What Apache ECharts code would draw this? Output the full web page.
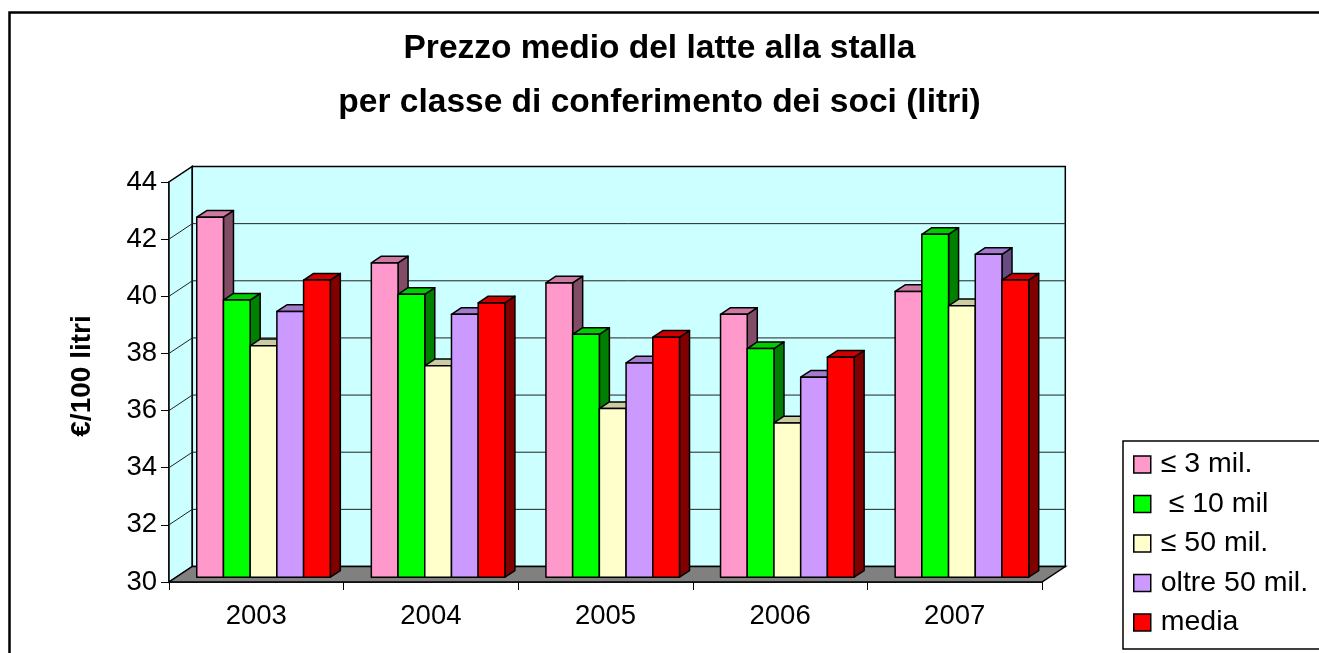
<!DOCTYPE html>
<html>
<head>
    <meta charset="utf-8">
    <title>Prezzo medio del latte alla stalla</title>
    <script src="https://cdn.jsdelivr.net/npm/echarts@6/dist/echarts.min.js"></script>
    <style>
        html, body { margin: 0; padding: 0; background: #fff; }
        #chart1 { width: 1319px; height: 653px; }
    </style>
</head>
<body>
<div id="chart1"></div>
<script>
    // dati
    var anni = ['2003', '2004', '2005', '2006', '2007'];
    var classi = ['≤ 3 mil.', ' ≤ 10 mil', '≤ 50 mil.', 'oltre 50 mil.', 'media'];
    var fino3 = [42.6, 41.0, 40.3, 39.2, 40.0];
    var fino10 = [39.7, 39.9, 38.5, 38.0, 42.0];
    var fino50 = [38.1, 37.4, 35.9, 35.4, 39.5];
    var oltre50 = [39.3, 39.2, 37.5, 37.0, 41.3];
    var media = [40.4, 39.6, 38.4, 37.7, 40.4];
    var yMin = 30, yMax = 44, yStep = 2;

    var valori = [fino3, fino10, fino50, oltre50, media];
    // colori: fronte, sopra, lato
    var colori = [
        ['#FF99CC', '#CC7AA3', '#804C66'],
        ['#00FF00', '#00CC00', '#008000'],
        ['#FFFFCC', '#CCCCA3', '#808066'],
        ['#CC99FF', '#A37ACC', '#664C80'],
        ['#FF0000', '#CC0000', '#800000']
    ];

    // profondita' finta 3D
    var DX = 23.3, DY = -15.5;
    var F1 = 0.31, F2 = 0.74;

    var chart = echarts.init(document.getElementById('chart1'));

    function renderPareti(params, api) {
        var catW = api.size([1, 0])[0];
        var L = api.coord([0, yMin])[0] - catW / 2;
        var R = api.coord([anni.length - 1, yMin])[0] + catW / 2;
        var y0 = api.coord([0, yMin])[1];
        var y1 = api.coord([0, yMax])[1];
        var figli = [];
        var cyan = '#CCFFFF';
        figli.push({
            type: 'polygon',
            shape: { points: [[L, y0], [L, y1], [L + DX, y1 + DY], [L + DX, y0 + DY]] },
            style: { fill: cyan, stroke: '#000', lineWidth: 1.5 }
        });
        figli.push({
            type: 'rect',
            shape: { x: L + DX, y: y1 + DY, width: R - L, height: y0 - y1 },
            style: { fill: cyan, stroke: '#000', lineWidth: 1.5 }
        });
        for (var v = yMin + yStep; v < yMax; v += yStep) {
            var yv = api.coord([0, v])[1];
            figli.push({
                type: 'line',
                shape: { x1: L + DX, y1: yv + DY, x2: R + DX, y2: yv + DY },
                style: { stroke: '#222', lineWidth: 1 }
            });
            figli.push({
                type: 'line',
                shape: { x1: L, y1: yv, x2: L + DX, y2: yv + DY },
                style: { stroke: '#222', lineWidth: 1 }
            });
        }
        figli.push({
            type: 'polygon',
            shape: { points: [[L, y0], [R, y0], [R + DX, y0 + DY], [L + DX, y0 + DY]] },
            style: { fill: '#808080', stroke: '#000', lineWidth: 1.5 }
        });
        return { type: 'group', children: figli };
    }

    function creaBarre(s) {
        return function (params, api) {
            var catW = api.size([1, 0])[0];
            var bw = catW * 0.153;
            var c = api.coord([api.value(0), api.value(1)]);
            var base = api.coord([api.value(0), yMin]);
            var x0 = c[0] + (s - 2.5) * bw + F1 * DX;
            var x1 = x0 + bw;
            var yT = c[1] + F1 * DY;
            var yB = base[1] + F1 * DY;
            var dx = (F2 - F1) * DX, dy = (F2 - F1) * DY;
            var st = { stroke: '#000', lineWidth: 1.5, lineJoin: 'round' };
            return {
                type: 'group',
                children: [
                    {
                        type: 'polygon',
                        shape: { points: [[x1, yT], [x1 + dx, yT + dy], [x1 + dx, yB + dy], [x1, yB]] },
                        style: Object.assign({ fill: colori[s][2] }, st)
                    },
                    {
                        type: 'polygon',
                        shape: { points: [[x0, yT], [x1, yT], [x1 + dx, yT + dy], [x0 + dx, yT + dy]] },
                        style: Object.assign({ fill: colori[s][1] }, st)
                    },
                    {
                        type: 'rect',
                        shape: { x: x0, y: yT, width: bw, height: yB - yT },
                        style: Object.assign({ fill: colori[s][0] }, st)
                    }
                ]
            };
        };
    }

    var serie = [{
        name: 'pareti',
        type: 'custom',
        renderItem: renderPareti,
        data: [[0, yMin]],
        silent: true,
        z: 1
    }];
    classi.forEach(function (nome, s) {
        serie.push({
            name: nome,
            type: 'custom',
            renderItem: creaBarre(s),
            itemStyle: { color: colori[s][0] },
            encode: { x: 0, y: 1 },
            data: anni.map(function (a, i) { return [i, valori[s][i]]; }),
            z: 3
        });
    });

    var option = {
        animation: false,
        title: {
            text: 'Prezzo medio del latte alla stalla\nper classe di conferimento dei soci (litri)',
            left: 'center',
            top: 17,
            padding: [5, 0, 5, 15],
            textStyle: {
                fontFamily: 'Liberation Sans',
                fontSize: 33.5,
                fontWeight: 'bold',
                color: '#000',
                lineHeight: 54
            }
        },
        legend: {
            data: classi,
            orient: 'vertical',
            left: 1123,
            top: 441,
            height: 200,
            padding: [9, 30, 12, 10],
            itemWidth: 17,
            itemHeight: 17,
            itemGap: 10.5,
            icon: 'rect',
            borderColor: '#000',
            borderWidth: 1.5,
            itemStyle: { borderColor: '#000', borderWidth: 1.5 },
            textStyle: { fontFamily: 'Liberation Sans', fontSize: 28.5, color: '#000', padding: [0, 0, 0, 5] }
        },
        grid: { left: 169, right: 277, top: 182, bottom: 71 },
        xAxis: {
            type: 'category',
            data: anni,
            axisLine: { show: true, lineStyle: { color: '#000', width: 1.5 } },
            axisTick: { show: true, length: 8, lineStyle: { color: '#000' } },
            axisLabel: { fontFamily: 'Liberation Sans', fontSize: 27.5, color: '#000', margin: 20 },
            splitLine: { show: false }
        },
        yAxis: {
            type: 'value',
            min: yMin,
            max: yMax,
            interval: yStep,
            axisLine: { show: true, lineStyle: { color: '#000', width: 1.5 } },
            axisTick: { show: true, length: 8, lineStyle: { color: '#000' } },
            axisLabel: { fontFamily: 'Liberation Sans', fontSize: 27.5, color: '#000', margin: 12 },
            splitLine: { show: false }
        },
        graphic: [
            {
                type: 'rect',
                left: 7, top: 10,
                shape: { width: 1400, height: 700 },
                style: { fill: 'none', stroke: '#000', lineWidth: 2.5 },
                silent: true
            },
            {
                type: 'text',
                x: 82, y: 376,
                rotation: Math.PI / 2,
                style: {
                    text: '€/100 litri',
                    fontFamily: 'Liberation Sans',
                    fontSize: 28,
                    fontWeight: 'bold',
                    fill: '#000',
                    align: 'center',
                    verticalAlign: 'middle'
                }
            }
        ],
        series: serie
    };
    chart.setOption(option);
</script>
</body>
</html>
